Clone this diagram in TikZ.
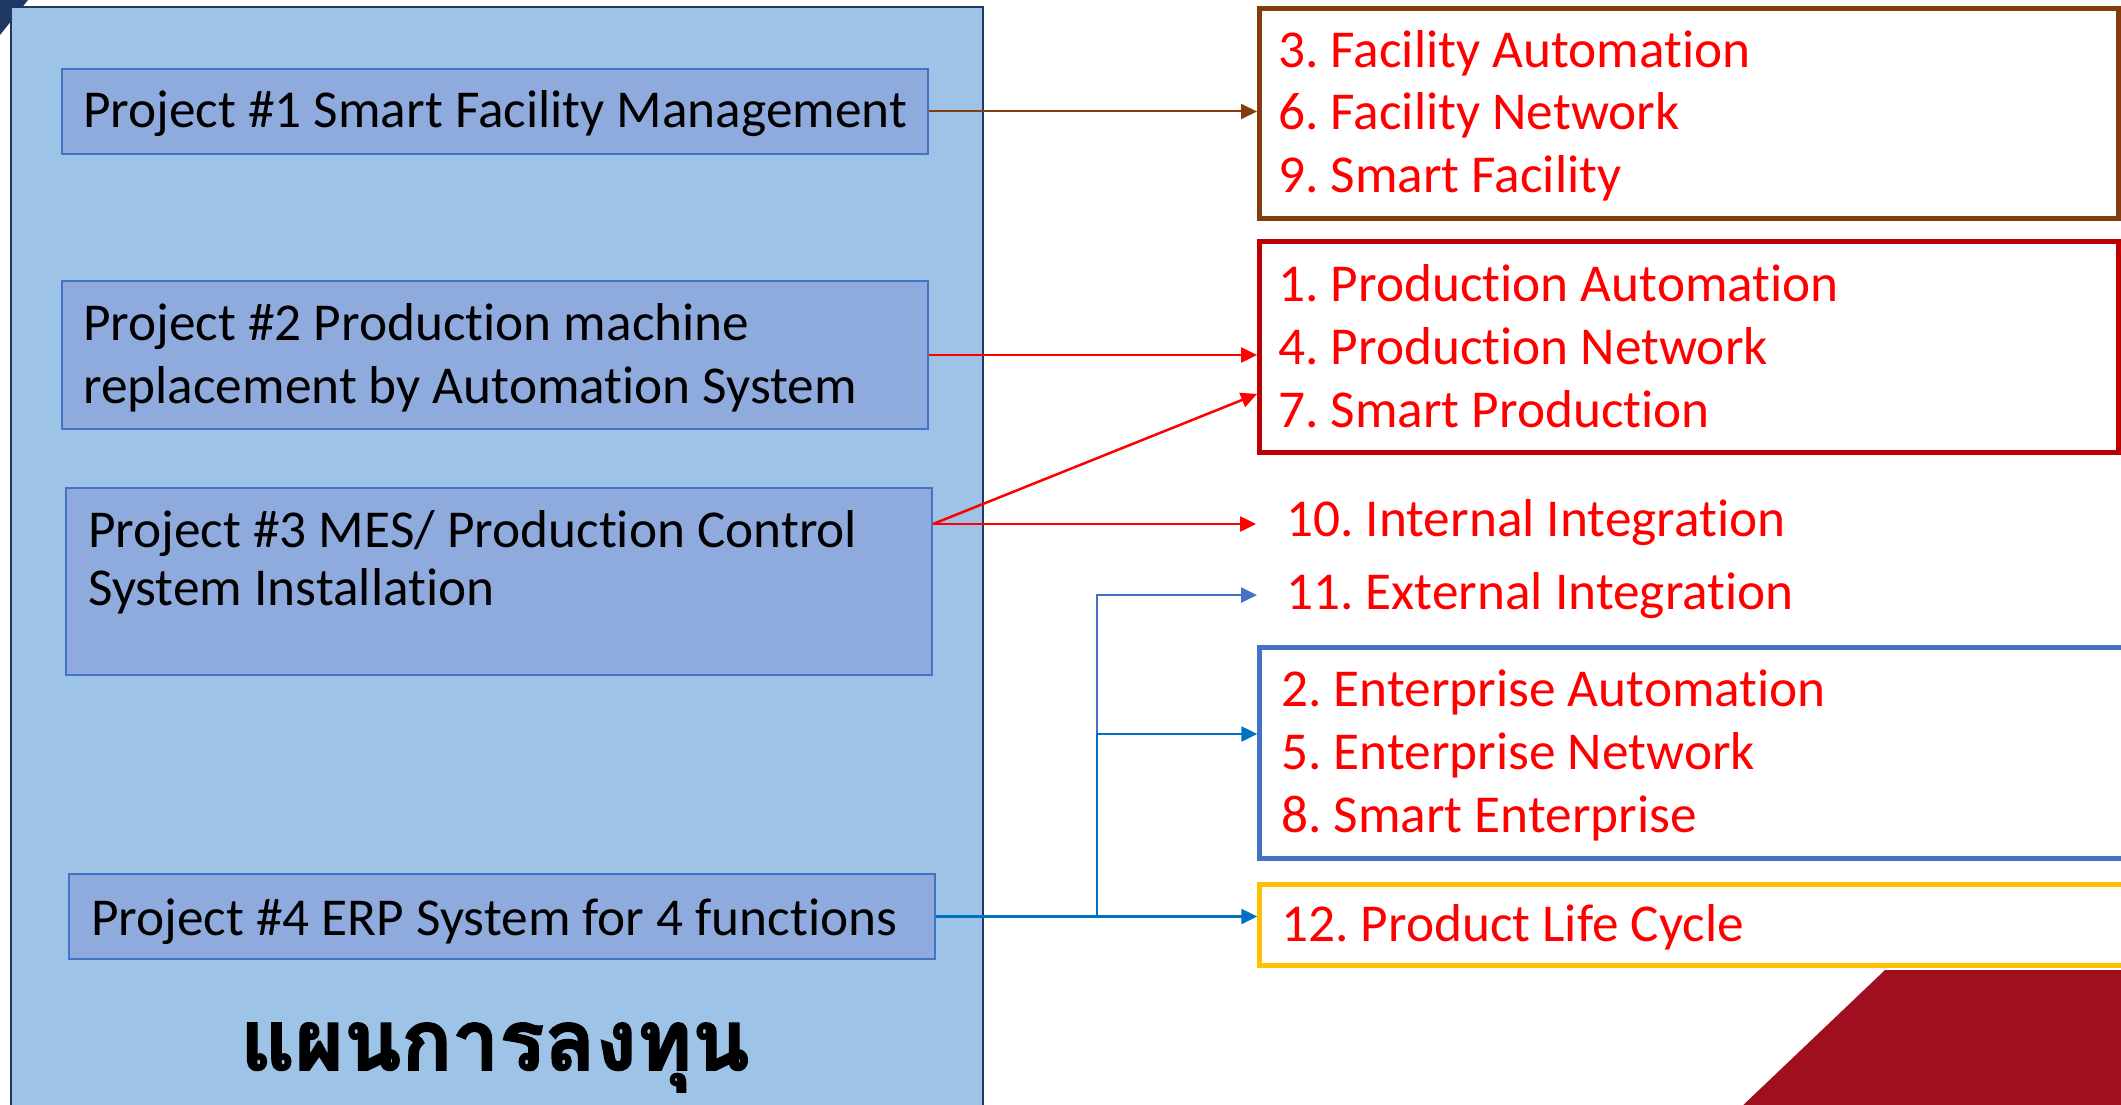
\documentclass[tikz,border=0pt]{standalone}
\usepackage{fontspec}
\setmainfont{Carlito}[Ligatures=NoCommon]
\newfontfamily\thaifont[Script=Thai, BoldFeatures={FakeBold=2}]{Loma}
\usetikzlibrary{arrows.meta,calc}
\frenchspacing

\definecolor{panelfill}{HTML}{9DC3E6}
\definecolor{navy}{HTML}{1F3864}
\definecolor{projfill}{HTML}{8FAADC}
\definecolor{projline}{HTML}{4472C4}
\definecolor{brownline}{HTML}{843C0C}
\definecolor{darkred}{HTML}{C00000}
\definecolor{boxblue}{HTML}{4472C4}
\definecolor{gold}{HTML}{FFC000}
\definecolor{linkblue}{HTML}{0070C0}
\definecolor{maroon}{HTML}{A00F20}
\definecolor{itemred}{HTML}{FF0000}

\tikzset{
  projbox/.style={draw=projline, fill=projfill, line width=2pt, inner sep=0pt},
  groupbox/.style={fill=white, line width=5pt, inner sep=0pt},
  % multi-line nodes are placed by the baseline of their last line
  blacktext/.style={anchor=base west, inner sep=0pt, align=left,
    font=\fontsize{53.3}{63}\selectfont, text=black},
  redtext/.style={anchor=base west, inner sep=0pt, align=left,
    font=\fontsize{53.3}{63}\selectfont, text=itemred},
  link/.style={line width=2.5pt, -{Triangle[length=16pt,width=15pt]}},
}

\begin{document}
\begin{tikzpicture}[x=1pt, y=-1pt]
\path[use as bounding box, clip] (0,0) rectangle (2121,1105);

% background accents
\fill[navy] (0,0) -- (28,0) -- (0,35) -- cycle;
\fill[maroon] (1885,970) -- (2125,970) -- (2125,1110) -- (1738,1110) -- cycle;

% investment plan panel
\draw[navy, fill=panelfill, line width=2.5pt] (11,7) rectangle (983,1120);

% project boxes
\node[projbox, minimum width=866pt, minimum height=85pt]  (p1) at (495,111.5) {};
\node[projbox, minimum width=866pt, minimum height=148pt] (p2) at (495,355) {};
\node[projbox, minimum width=866pt, minimum height=187pt] (p3) at (499,581.5) {};
\node[projbox, minimum width=866pt, minimum height=85pt]  (p4) at (502,916.5) {};

\node[blacktext] (p1t) at (83,128) {Project \#1 Smart Facility Management};
\node[blacktext] (p2t) at (83,403) {Project \#2 Production machine\\replacement by Automation System};
\node[blacktext, font=\fontsize{53.3}{58}\selectfont] (p3t) at (88,605) {Project \#3 MES/ Production Control\\System Installation};
\node[blacktext] (p4t) at (91,935) {Project \#4 ERP System for 4 functions};

\node[anchor=base, inner sep=0pt, font=\thaifont\bfseries\fontsize{84}{90}\selectfont] (plan) at (495,1070) {แผนการลงทุน};

% target groups
\node[groupbox, draw=brownline, minimum width=859pt, minimum height=210pt] (ba) at (1689,113.5) {};
\node[groupbox, draw=darkred, minimum width=859pt, minimum height=211pt] (bb) at (1689,347) {};
\node[groupbox, draw=boxblue, minimum width=880pt, minimum height=211pt] (bc) at (1699.75,753) {};
\node[groupbox, draw=gold, minimum width=880pt, minimum height=81pt] (bd) at (1699.75,925) {};

\node[redtext] (ta) at (1278,193) {3. Facility Automation\\6. Facility Network\\9. Smart Facility};
\node[redtext] (tb) at (1278,427) {1. Production Automation\\4. Production Network\\7. Smart Production};
\node[redtext] (t10) at (1286,536) {10. Internal Integration};
\node[redtext] (t11) at (1286,609) {11. External Integration};
\node[redtext] (tc) at (1281,832) {2. Enterprise Automation\\5. Enterprise Network\\8. Smart Enterprise};
\node[redtext] (td) at (1281,941) {12. Product Life Cycle};

% connectors
\coordinate (p3o) at ([yshift=-37pt]p3.north east);
\coordinate (bb7) at ([yshift=-47pt]bb.west);
\coordinate (jb) at ($(p4.east)+(161,0)$);

\draw[link, brownline, line width=2pt] (p1.east) -- (p1.east -| ba.west);
\draw[link, itemred] (p2.east) -- (p2.east -| bb.west);
\draw[link, itemred] (p3o) -- (bb7);
\draw[link, itemred] (p3o) -- ($(p3o -| t10.west)+(-30,0)$);

\draw[link, boxblue] (p4.east) -- (jb) |- ($(t11.west)+(-29,0)$);
\draw[link, linkblue] (p4.east) -- (jb) |- ($(bc.west)+(0,-19)$);
\draw[link, linkblue] (p4.east) -- (p4.east -| bd.west);
\end{tikzpicture}
\end{document}
